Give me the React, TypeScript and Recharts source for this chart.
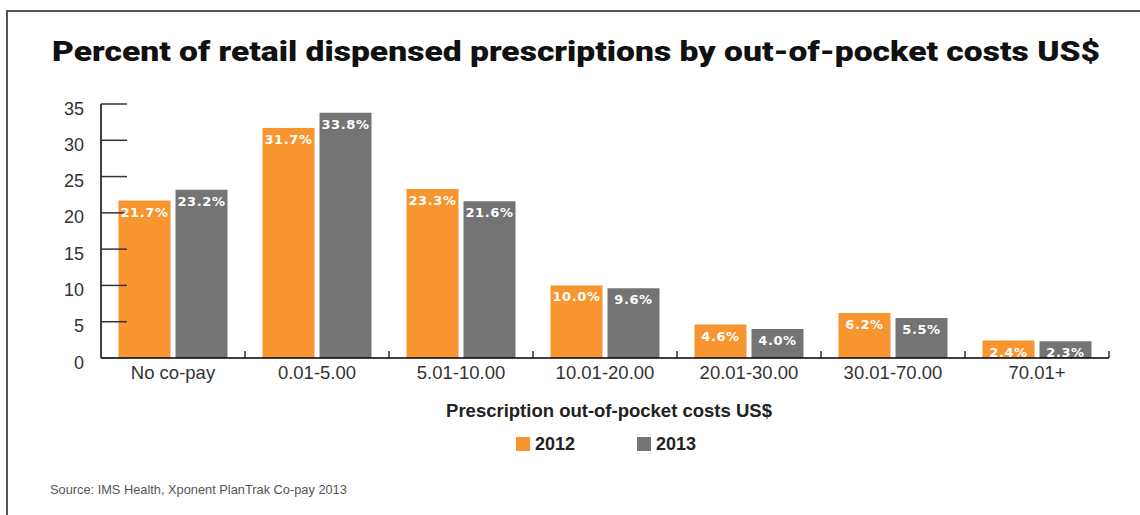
import React from 'react';
import { BarChart, Bar, XAxis, YAxis, LabelList } from 'recharts';

const categories = ['No co-pay', '0.01-5.00', '5.01-10.00', '10.01-20.00', '20.01-30.00', '30.01-70.00', '70.01+'];
const values2012 = [21.7, 31.7, 23.3, 10.0, 4.6, 6.2, 2.4];
const values2013 = [23.2, 33.8, 21.6, 9.6, 4.0, 5.5, 2.3];
const yTicks = [0, 5, 10, 15, 20, 25, 30, 35];
const seriesNames = ['2012', '2013'];
const seriesKeys = ['y2012', 'y2013'];
const seriesColors = ['#F7962F', '#747474'];

const data = categories.map((c, i) => ({ category: c, y2012: values2012[i], y2013: values2013[i] }));

const FONT = '"Liberation Sans", Arial, Helvetica, sans-serif';

const YTick = (props: any) => {
  const { x, y, payload } = props;
  return (
    <g>
      <line x1={x + 17} x2={x + 43} y1={y} y2={y} stroke="#333" strokeWidth={1.5} />
      <text x={x} y={y} dy={10.5} textAnchor="end" fill="#333" fontFamily={FONT} fontSize={18}>
        {payload.value}
      </text>
    </g>
  );
};

const XTick = (props: any) => {
  const { x, y, payload } = props;
  return (
    <g>
      <line x1={x + 72} x2={x + 72} y1={y} y2={y - 7} stroke="#000" strokeWidth={1.2} />
      <text x={x} y={y} dy={21} textAnchor="middle" fill="#333" fontFamily={FONT} fontSize={18.5}>
        {payload.value}
      </text>
    </g>
  );
};

const BarLabel = (props: any) => {
  const { x, y, width, value } = props;
  return (
    <text
      x={Number(x) + Number(width) / 2}
      y={Number(y) + 16}
      textAnchor="middle"
      fill="#fff"
      fontFamily='"DejaVu Sans", sans-serif'
      fontWeight="bold"
      fontSize={13}
      letterSpacing={0.6}
    >
      {`${Number(value).toFixed(1)}%`}
    </text>
  );
};

export default function App() {
  return (
    <div style={{ position: 'absolute', left: 0, top: 0, width: 1140, height: 515, background: '#fff', overflow: 'hidden' }}>
      <div
        style={{
          position: 'absolute',
          left: 6,
          top: 10,
          width: 1140,
          height: 515,
          borderTop: '2px solid #555',
          borderLeft: '2px solid #555',
        }}
      />
      <div style={{ position: 'absolute', left: 0, top: 0 }}>
        <BarChart
          width={1140}
          height={515}
          data={data}
          margin={{ top: 104, right: 31, bottom: 127, left: 41 }}
          barCategoryGap={17.5}
          barGap={5}
        >
          <XAxis
            dataKey="category"
            height={30}
            interval={0}
            tickLine={false}
            tickSize={0}
            tickMargin={0}
            axisLine={{ stroke: '#000', strokeWidth: 1.5 }}
            tick={<XTick />}
          />
          <YAxis
            width={60}
            domain={[0, 35]}
            ticks={yTicks}
            tickLine={false}
            tickSize={0}
            tickMargin={17}
            axisLine={{ stroke: '#000', strokeWidth: 1.5 }}
            tick={<YTick />}
          />
          {seriesKeys.map((k, i) => (
            <Bar key={k} dataKey={k} name={seriesNames[i]} fill={seriesColors[i]} isAnimationActive={false}>
              <LabelList dataKey={k} content={<BarLabel />} />
            </Bar>
          ))}
        </BarChart>
      </div>
      <svg width={1140} height={515} style={{ position: 'absolute', left: 0, top: 0, pointerEvents: 'none' }}>
        <text
          x={52}
          y={61}
          fill="#111"
          fontFamily='Roboto, "DejaVu Sans", sans-serif'
          fontWeight={900}
          fontSize={28}
          textLength={1048}
          lengthAdjust="spacingAndGlyphs"
        >
          Percent of retail dispensed prescriptions by out-of-pocket costs US$
        </text>
        <text x={609} y={417} textAnchor="middle" fill="#222" fontFamily={FONT} fontWeight="bold" fontSize={18.5}>
          Prescription out-of-pocket costs US$
        </text>
        {seriesNames.map((n, i) => (
          <g key={n}>
            <rect x={516 + i * 121} y={437} width={14} height={14} fill={seriesColors[i]} />
            <text x={535 + i * 121} y={450} fill="#222" fontFamily={FONT} fontWeight="bold" fontSize={18}>
              {n}
            </text>
          </g>
        ))}
        <text x={50} y={494} fill="#555" fontFamily={FONT} fontSize={12.8}>
          Source: IMS Health, Xponent PlanTrak Co-pay 2013
        </text>
      </svg>
    </div>
  );
}
